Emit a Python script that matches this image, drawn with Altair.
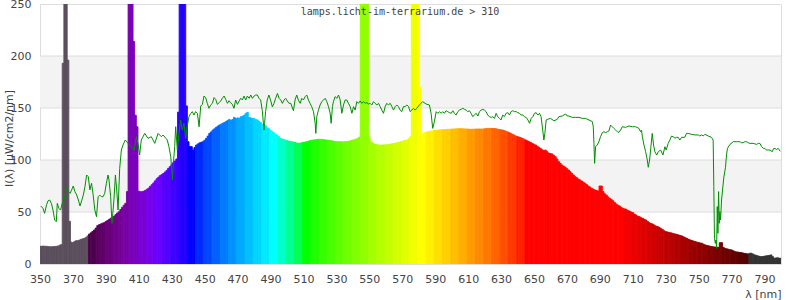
import math
import altair as alt
import pandas as pd

# ---------------- data ----------------
wavelengths = list(range(350, 801))

intensity = [
    17, 17, 17.3, 17, 17, 16.7, 16.5, 16.5, 16.7, 16.7,                 # 350
    17, 17.3, 18, 18.6, 193, 420, 420, 196, 41, 21,                     # 360
    20.5, 21.5, 22.4, 22.4, 23, 23.7, 24.2, 24.7, 25.5, 27,             # 370
    28.8, 30, 31.3, 32.7, 34.5, 36.9, 37.8, 38.5, 39.2, 39.7,           # 380
    40.8, 41.8, 42.9, 44, 45, 46, 47.5, 49, 50.3, 52.4,                 # 390
    54.5, 56.5, 58.3, 69.6, 420, 420, 420, 214, 143, 132,               # 400
    70, 69.5, 69.5, 70, 70.8, 71.8, 73, 74.7, 76.3, 78,                 # 410
    80, 82, 83.5, 85, 86, 87, 88.5, 90, 92, 93.6,                       # 420
    95.5, 97.4, 99, 101, 146, 420, 420, 420, 420, 152,                  # 430
    117.6, 113, 112.8, 109.6, 112, 114.4, 115.5, 116.5, 117, 117.6,     # 440
    119, 120.8, 123, 125.6, 127, 128.8, 130, 131.4, 132.5, 133.6,       # 450
    134.5, 135.3, 136, 136.9, 138, 139, 138, 139, 141, 139.9,           # 460
    140.5, 140, 141.5, 142, 143, 144.8, 145.8, 141, 140.5, 140,         # 470
    140, 139, 138.5, 137, 136, 134, 132, 133, 131, 130,                 # 480
    128.8, 127.5, 126.3, 125, 124, 122.5, 120.8, 120.3, 119.8, 119.2,   # 490
    118.6, 118.2, 117.8, 117.6, 117.2, 116.8, 116.3, 116, 116.3, 116.6, # 500
    116.8, 117.2, 117.6, 118, 118.6, 119, 119.2, 119.4, 119.6, 119.9,   # 510
    119.9, 119.8, 119.6, 119.4, 119.2, 119, 118.8, 118.6, 118.2, 117.8, # 520
    117.6, 117.6, 117.6, 117.5, 117.4, 117.6, 117.6, 117.8, 118.2, 118.6, # 530
    119.2, 119.6, 120.2, 120.8, 122, 300, 600, 600, 400, 250,           # 540
    122.4, 117.6, 116.5, 115.4, 115, 114.6, 114.4, 114.4, 114.4, 114.5, # 550
    114.6, 114.8, 115, 115.3, 115.6, 116, 116.3, 116.6, 117, 117.6,     # 560
    118, 118.6, 119, 119.2, 120.5, 122.4, 400, 600, 600, 600,           # 570
    400, 170, 125.6, 126, 126.5, 127, 127.2, 127.6, 128, 128.2,         # 580
    128.5, 128.6, 128.8, 129, 129.1, 129.2, 129.3, 129.4, 129.5, 129.6, # 590
    129.7, 129.8, 129.9, 130, 130.1, 130.1, 130, 130, 129.9, 129.8,     # 600
    129.7, 129.6, 129.5, 129.6, 129.7, 129.8, 129.8, 129.8, 129.8, 129.8, # 610
    130, 130.2, 130.4, 130.4, 130.3, 130.3, 130.2, 130, 129.6, 129.2,   # 620
    129, 128.8, 128.2, 127.6, 127, 126.3, 125.5, 124.7, 123.9, 123.1,   # 630
    122.5, 122, 121.4, 120.8, 120, 119.2, 118.4, 117.6, 116.8, 116,     # 640
    115.2, 114.4, 113.3, 112.2, 111.1, 109.8, 109.2, 109.5, 108, 106.6, # 650
    106.2, 105.8, 104.5, 103.2, 101, 98.4, 96.8, 95.2, 94, 93,          # 660
    91.7, 90.4, 88.8, 87.2, 85.6, 84, 83, 81.7, 80.8, 79.8,             # 670
    78.7, 77.6, 76.3, 75, 74, 72.8, 72, 71.2, 70.7, 70.2,               # 680
    75, 75, 69.6, 67.5, 66.3, 64.5, 63.1, 62, 60.8, 59,                 # 690
    57.7, 56.5, 55.8, 54.5, 53.5, 53, 52.6, 51.5, 50.9, 50,             # 700
    49.4, 48, 47.1, 46, 45.5, 44.5, 43.9, 43, 42.3, 41,                 # 710
    39.7, 39, 38.5, 37.5, 36.5, 36, 35.3, 34.3, 33.3, 32,               # 720
    31.1, 30.8, 30.4, 30, 29.6, 29, 28.8, 28.3, 27.8, 27.3,             # 730
    26.9, 26, 25.2, 24.4, 23.7, 23.1, 22.5, 22, 21.5, 21,               # 740
    20.6, 20.2, 19.9, 19, 18.3, 17.9, 17.5, 17, 16.7, 16.5,             # 750
    16.3, 16, 16, 20.5, 20.5, 16, 15, 14.6, 14.2, 13.8,                 # 760
    13.5, 12.7, 11.9, 11.6, 11.4, 11.1, 10.9, 10.5, 10.2, 9.9,          # 770
    9.6, 10.3, 10.3, 9.5, 8.7, 8.3, 7.8, 7.3, 7, 7.2,                   # 780
    7.5, 7.8, 8, 8.3, 8.7, 7, 5.5, 5.8, 6, 5.5,                         # 790
    5.5,                                                                # 800
]
assert len(intensity) == len(wavelengths)

# reference (sun) curve: (wavelength nm, value)
sun_curve = [
    (350.4, 55.8), (351.8, 53.6), (352.8, 48.7), (354.0, 57.0), (354.9, 60.8), (355.9, 61.5),
    (356.9, 58.3), (357.9, 51.9), (358.9, 42.3), (359.9, 40.7), (360.5, 58.3), (361.5, 53.5),
    (362.5, 51.9), (363.5, 58.3), (364.7, 61.5), (366.1, 72.8), (367.2, 69.6), (368.2, 67.9),
    (369.2, 71.2), (370.2, 75.0), (371.2, 69.6), (372.3, 66.3), (373.3, 61.5), (374.3, 55.8),
    (375.3, 60.8), (376.3, 66.3), (377.3, 74.3), (378.3, 85.6), (379.3, 84.0), (380.3, 71.2),
    (381.3, 77.6), (382.3, 66.3), (383.3, 51.9), (384.3, 45.5), (385.3, 64.7), (386.3, 66.3),
    (387.3, 64.7), (388.3, 64.7), (389.3, 67.9), (390.3, 77.6), (391.3, 85.6), (391.9, 80.8),
    (392.9, 64.7), (393.7, 39.1), (394.9, 61.5), (395.8, 85.6), (396.6, 71.2), (397.4, 51.9),
    (398.4, 92.0), (399.4, 109.6), (400.4, 114.4), (401.8, 119.2), (403.5, 116.0), (405.5, 112.8),
    (407.1, 109.6), (408.5, 122.4), (409.5, 116.0), (410.5, 104.8), (411.5, 119.2), (413.6, 125.6),
    (415.6, 120.8), (417.6, 122.4), (419.7, 116.0), (421.7, 125.6), (423.7, 122.4), (424.7, 124.0),
    (426.5, 120.8), (427.3, 119.2), (428.3, 112.8), (429.4, 103.2), (430.4, 80.8), (431.0, 96.8),
    (431.8, 112.8), (432.4, 132.0), (433.4, 109.6), (434.4, 125.6), (435.4, 138.5), (436.4, 128.8),
    (437.4, 135.3), (438.5, 120.8), (439.5, 133.6), (440.5, 141.7), (441.5, 144.8), (442.5, 146.5),
    (443.5, 143.2), (444.5, 146.5), (445.6, 144.8), (446.6, 132.0), (447.6, 151.9), (448.6, 153.5),
    (449.6, 161.5), (450.6, 160.0), (451.6, 154.5), (452.6, 149.7), (453.7, 153.0), (454.7, 154.5),
    (455.7, 160.0), (456.7, 158.3), (457.7, 153.5), (458.7, 155.0), (459.7, 156.7), (460.7, 159.3),
    (461.8, 161.5), (462.8, 158.3), (463.8, 154.5), (464.8, 157.0), (465.8, 155.0), (466.8, 153.5),
    (467.8, 149.7), (468.8, 157.7), (469.9, 153.5), (470.9, 156.7), (471.9, 159.3), (472.9, 157.7),
    (473.9, 161.5), (474.9, 157.7), (475.9, 161.5), (477.0, 159.3), (478.0, 162.5), (479.0, 159.3),
    (480.0, 161.5), (481.0, 162.5), (482.0, 162.5), (483.0, 159.3), (484.0, 157.7), (485.0, 147.4),
    (486.0, 128.8), (486.4, 135.3), (487.0, 146.5), (488.0, 157.7), (489.0, 162.5), (490.0, 157.7),
    (491.1, 151.0), (492.1, 154.5), (493.1, 159.3), (494.2, 164.0), (495.2, 159.3), (496.2, 157.7),
    (497.2, 154.5), (498.2, 157.7), (499.2, 159.3), (500.2, 156.7), (501.2, 154.5), (502.3, 154.5),
    (503.9, 147.4), (504.9, 157.7), (505.9, 162.5), (506.9, 157.7), (508.0, 154.5), (509.0, 159.3),
    (510.0, 157.7), (511.0, 160.9), (512.0, 162.5), (513.0, 157.7), (514.0, 154.5), (515.0, 151.3),
    (516.1, 146.5), (517.1, 135.3), (517.5, 125.6), (518.1, 141.7), (519.1, 148.0), (520.1, 152.9),
    (521.1, 156.1), (522.2, 157.7), (523.2, 159.3), (524.2, 156.1), (525.2, 151.3), (526.2, 144.9),
    (526.8, 135.3), (527.6, 151.3), (528.2, 156.1), (529.2, 160.9), (530.3, 159.3), (531.3, 162.5),
    (532.3, 157.7), (533.3, 144.9), (534.3, 152.9), (535.3, 157.7), (536.3, 157.7), (537.3, 154.5),
    (538.4, 151.3), (539.4, 144.9), (540.4, 151.3), (541.4, 148.0), (542.4, 156.1), (543.4, 154.5),
    (544.4, 156.8), (545.4, 154.5), (546.5, 156.1), (547.5, 154.5), (548.5, 155.2), (549.5, 153.8),
    (550.5, 154.5), (551.5, 152.9), (552.5, 156.1), (553.5, 154.5), (554.6, 152.9), (555.6, 154.5),
    (556.6, 151.3), (557.6, 148.0), (558.6, 144.9), (559.6, 151.3), (560.6, 154.5), (561.6, 152.9),
    (562.7, 154.5), (563.7, 151.3), (564.7, 148.0), (565.7, 151.3), (566.7, 152.9), (567.7, 151.3),
    (568.7, 148.0), (569.7, 146.5), (570.7, 151.3), (571.7, 151.3), (572.8, 152.9), (573.8, 151.3),
    (574.8, 146.5), (575.8, 148.0), (576.8, 149.7), (577.8, 148.0), (578.8, 149.7), (580.4, 152.9),
    (582.4, 156.1), (584.5, 153.8), (586.5, 152.9), (587.5, 144.9), (588.5, 130.4), (589.5, 136.9),
    (590.6, 146.5), (591.6, 144.9), (592.6, 146.5), (593.6, 144.9), (594.6, 146.5), (595.6, 144.9),
    (596.6, 147.4), (597.6, 146.5), (598.7, 145.5), (599.7, 144.9), (600.7, 147.4), (601.7, 144.9),
    (602.7, 143.2), (603.7, 146.5), (604.7, 148.0), (605.8, 148.7), (606.8, 149.7), (607.8, 148.7),
    (608.8, 148.0), (609.8, 146.5), (610.8, 147.4), (611.8, 144.9), (612.8, 141.7), (613.8, 143.2),
    (614.9, 144.9), (615.9, 142.3), (616.9, 146.5), (617.9, 148.0), (618.9, 148.7), (619.9, 148.0),
    (620.9, 146.5), (621.9, 143.2), (623.0, 141.7), (624.0, 141.0), (625.0, 141.7), (626.0, 140.0),
    (627.0, 144.9), (628.0, 141.7), (629.0, 140.0), (630.0, 138.5), (631.0, 143.2), (632.0, 141.7),
    (633.1, 144.9), (634.1, 145.5), (635.1, 143.2), (636.1, 146.5), (637.1, 147.4), (638.1, 146.5),
    (639.2, 146.5), (640.2, 145.5), (641.2, 144.9), (642.2, 143.2), (643.2, 143.2), (644.2, 141.7),
    (645.2, 141.0), (646.3, 138.5), (647.3, 135.3), (648.3, 140.0), (649.3, 141.7), (650.3, 144.9),
    (651.3, 145.5), (652.3, 143.2), (653.3, 144.9), (654.3, 141.7), (655.3, 128.8), (656.0, 119.2),
    (656.6, 125.6), (657.4, 138.5), (658.0, 139.0), (660.0, 140.0), (662.1, 137.8), (664.1, 139.0),
    (665.1, 141.7), (667.1, 142.3), (669.2, 144.2), (670.2, 142.3), (671.2, 142.3), (673.2, 141.0),
    (675.3, 141.0), (677.3, 141.0), (679.3, 140.0), (681.3, 140.0), (683.4, 138.5), (685.4, 136.9),
    (686.0, 132.0), (686.4, 116.0), (686.8, 96.8), (687.4, 112.8), (688.4, 114.4), (689.4, 117.6),
    (690.4, 122.4), (691.5, 126.3), (692.5, 127.2), (693.5, 126.3), (694.5, 127.2), (695.5, 127.9),
    (696.5, 133.6), (697.5, 132.0), (698.5, 130.4), (699.6, 128.8), (700.6, 127.2), (701.6, 126.6),
    (702.6, 128.8), (703.6, 132.0), (705.6, 131.4), (707.7, 132.7), (709.7, 132.0), (711.7, 132.0),
    (713.7, 130.4), (714.7, 127.2), (715.3, 128.8), (715.8, 122.4), (716.8, 114.4), (717.8, 108.0),
    (718.8, 100.0), (719.4, 93.0), (720.2, 100.0), (721.0, 112.8), (721.8, 125.6), (722.6, 114.4),
    (723.4, 108.0), (724.5, 104.8), (725.5, 108.0), (726.9, 109.6), (728.3, 104.8), (729.5, 112.8),
    (730.3, 109.6), (731.5, 116.0), (732.5, 119.2), (733.5, 123.0), (734.5, 122.4), (735.6, 121.0),
    (736.6, 121.8), (737.6, 121.8), (738.6, 119.2), (739.6, 121.8), (741.6, 121.8), (742.6, 125.6),
    (743.7, 125.6), (745.7, 124.7), (747.7, 124.1), (749.7, 124.1), (750.7, 123.1), (751.8, 124.1),
    (752.8, 123.1), (753.8, 124.7), (755.8, 123.1), (757.8, 121.8), (758.8, 119.2), (759.2, 74.3),
    (759.6, 24.7), (760.1, 19.9), (760.5, 23.1), (760.9, 15.0), (761.3, 55.2), (761.7, 29.5),
    (762.1, 69.6), (762.5, 39.1), (762.9, 50.3), (763.3, 42.3), (763.9, 61.5), (764.5, 71.2),
    (765.3, 83.6), (766.3, 93.0), (766.9, 104.8), (767.5, 111.2), (769.0, 115.0), (771.0, 117.6),
    (773.0, 117.6), (775.0, 117.6), (776.0, 116.6), (777.0, 116.6), (778.0, 117.6), (779.1, 117.6),
    (780.1, 116.6), (781.1, 116.0), (783.1, 116.0), (785.2, 115.0), (786.2, 116.0), (787.2, 116.0),
    (788.2, 113.0), (789.2, 111.2), (790.2, 111.2), (791.2, 109.6), (792.3, 109.6), (793.3, 109.6),
    (794.7, 108.0), (795.5, 111.0), (796.3, 111.2), (797.3, 110.0), (798.3, 111.2), (799.5, 108.3),
]

x_ticks = list(range(350, 800, 20))
y_ticks = [0, 50, 100, 150, 200, 250]
shaded_bands = [(50, 100), (150, 200)]
grid_values = [50, 100, 150, 200]
source_label = "lamps.licht-im-terrarium.de > 310"


# ---------------- colour of each wavelength bar ----------------
def spectral_color(w):
    if w < 380:
        return "#5b4f5d"
    if w > 780:
        return "#333333"
    w = 380 + math.floor((w - 380) / 5) * 5
    if w < 440:
        r, g, b = -(w - 440) / 60, 0.0, 1.0
    elif w < 490:
        r, g, b = 0.0, (w - 440) / 50, 1.0
    elif w < 510:
        r, g, b = 0.0, 1.0, -(w - 510) / 20
    elif w < 580:
        r, g, b = (w - 510) / 70, 1.0, 0.0
    elif w < 645:
        r, g, b = 1.0, -(w - 645) / 65, 0.0
    else:
        r, g, b = 1.0, 0.0, 0.0
    if w < 420:
        f = 0.3 + 0.7 * (w - 380) / 40
    elif w > 700:
        f = 0.3 + 0.7 * (780 - w) / 80
    else:
        f = 1.0
    comp = [round(255 * (c ** 0.8) * f) if c > 0 else 0 for c in (r, g, b)]
    return "#%02x%02x%02x" % tuple(comp)


bars_df = pd.DataFrame({
    "nm": wavelengths,
    "nm0": [w - 0.5 for w in wavelengths],
    "nm1": [w + 0.5 for w in wavelengths],
    "I": intensity,
    "base": [0] * len(wavelengths),
    "col": [spectral_color(w) for w in wavelengths],
})
sun_df = pd.DataFrame(sun_curve, columns=["nm", "v"])
bands_df = pd.DataFrame(shaded_bands, columns=["lo", "hi"])
grid_df = pd.DataFrame({"v": grid_values})
label_df = pd.DataFrame({"t": [source_label]})

FONT = "DejaVu Sans"
TXT = "#444444"

x_scale = alt.Scale(domain=[350, 800], nice=False, zero=False)
y_scale = alt.Scale(domain=[0, 250], nice=False)

x_axis = alt.Axis(
    values=x_ticks, ticks=False, grid=False, domain=False,
    labelFont=FONT, labelFontSize=11, labelColor=TXT, labelPadding=9,
    labelFlush=False, labelOverlap=False, labelSeparation=0,
    title="λ [nm]", titleFont=FONT, titleFontSize=11, titleFontWeight="normal",
    titleColor=TXT, titleAnchor="end", titleAlign="right", titleX=741, titleY=33,
    titleBaseline="alphabetic",
)
y_axis = alt.Axis(
    values=y_ticks, ticks=False, grid=False, domain=False,
    labelFont=FONT, labelFontSize=11, labelColor=TXT, labelPadding=9,
    labelFlush=False, labelOverlap=False,
    title="I(λ) [µW/cm2/nm]", titleFont=FONT, titleFontSize=11, titleFontWeight="normal",
    titleColor=TXT, titleAngle=270, titleX=-28, titleY=134, titleAlign="center",
    titleBaseline="alphabetic",
)

bands = alt.Chart(bands_df).mark_rect(color="#f3f3f3").encode(
    y=alt.Y("lo:Q", scale=y_scale, axis=y_axis),
    y2="hi:Q",
)

grid = alt.Chart(grid_df).mark_rule(color="#dddddd", strokeWidth=1).encode(
    y=alt.Y("v:Q", scale=y_scale, axis=y_axis),
)

bars = alt.Chart(bars_df).mark_bar(clip=True, strokeWidth=0.9).encode(
    x=alt.X("nm0:Q", scale=x_scale, axis=x_axis),
    x2="nm1:Q",
    y=alt.Y("I:Q", scale=y_scale, axis=y_axis),
    y2="base:Q",
    color=alt.Color("col:N", scale=None),
    stroke=alt.Stroke("col:N", scale=None),
)

line = alt.Chart(sun_df).mark_line(color="#008f00", strokeWidth=1, clip=True).encode(
    x=alt.X("nm:Q", scale=x_scale, axis=x_axis),
    y=alt.Y("v:Q", scale=y_scale, axis=y_axis),
)

label = alt.Chart(label_df).mark_text(
    font="DejaVu Sans Mono", fontSize=10, color=TXT, align="center", baseline="alphabetic"
).encode(
    x=alt.value(360),
    y=alt.value(11),
    text="t:N",
)

chart = alt.layer(bands, grid, bars, line, label).properties(
    width=741,
    height=260,
    autosize=alt.AutoSizeParams(type="none"),
    padding={"left": 40, "top": 4, "right": 19, "bottom": 36},
    background="white",
).configure_view(stroke="#dddddd", strokeWidth=1)

chart.save("out.html", embed_options={"renderer": "svg", "actions": False})
